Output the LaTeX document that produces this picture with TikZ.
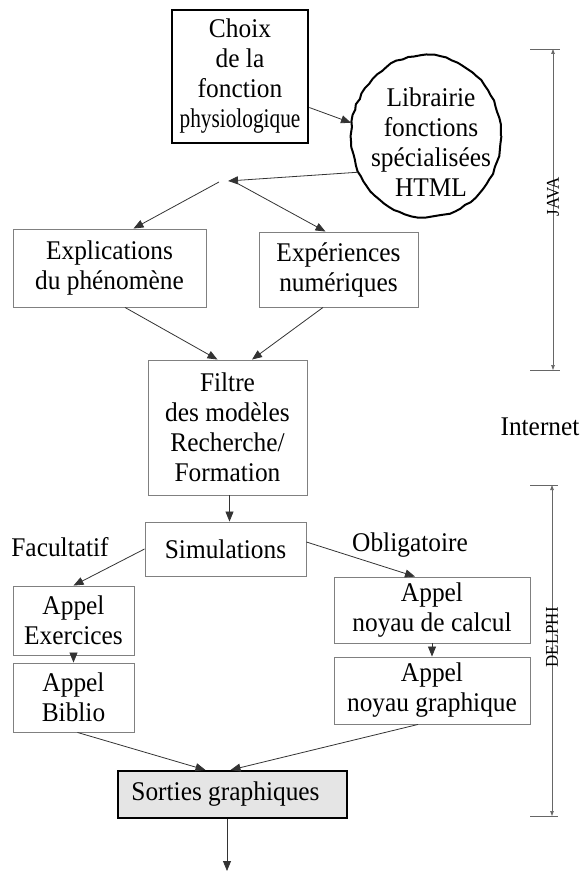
\documentclass[tikz,border=0pt]{standalone}
\usepackage{fontspec}
\usepackage{graphicx}
\setmainfont{Liberation Serif}[FakeStretch=0.94]
\usetikzlibrary{arrows.meta,shapes.geometric,decorations.pathmorphing}
\begin{document}
\begin{tikzpicture}[x=1pt,y=-1pt,
  every node/.style={font=\fontsize{27}{30}\selectfont, align=center, inner sep=0pt},
  box/.style={draw=black!50, line width=0.9pt, rectangle},
  conn/.style={draw=black!80, line width=0.8pt, -{Triangle[length=10pt,width=8pt]}},
  dimline/.style={draw=black!60, line width=0.7pt, {Triangle[length=5pt,width=3.5pt]}-{Triangle[length=5pt,width=3.5pt]}},
  tickline/.style={draw=black!60, line width=0.7pt},
  small/.style={font=\fontsize{18}{20}\selectfont}]
\useasboundingbox (0,0) rectangle (581,872);
\pgfmathsetseed{7}
% nodes
\node[box, draw=black, line width=2.5pt, minimum width=136pt, minimum height=133pt] (choix) at (240,76.5)
  {Choix\\de la\\fonction\\\scalebox{0.84}[1]{physiologique}};
\node[draw=black, line width=2pt, ellipse, minimum width=150pt, minimum height=162pt,
  decorate, decoration={random steps,segment length=6pt,amplitude=0.8pt}] (lib) at (426,136) {};
\node (libtxt) at (431,142) {Librairie\\fonctions\\spécialisées\\HTML};
\coordinate (J) at (228,181);
\node[box, minimum width=193pt, minimum height=78pt] (expl) at (109.5,268) {Explications\\du phénomène};
\node[box, minimum width=159pt, minimum height=75pt] (exper) at (338.5,269.5) {Expériences\\numériques};
\node[box, minimum width=159pt, minimum height=135pt] (filtre) at (227.5,427.5) {Filtre\\des modèles\\Recherche/\\Formation};
\node[box, minimum width=161pt, minimum height=54pt] (simu) at (225.5,549) {Simulations};
\node (fac) at (60,547) {Facultatif};
\node (obl) at (410,545) {Obligatoire};
\node (inet) at (540,427) {Internet};
\node[box, minimum width=121pt, minimum height=69pt] (exo) at (73.5,620.5) {Appel\\Exercices};
\node[box, minimum width=121pt, minimum height=69pt] (biblio) at (73.5,697.5) {Appel\\Biblio};
\node[box, minimum width=196pt, minimum height=66pt] (calc) at (432,610) {Appel\\noyau de calcul};
\node[box, minimum width=196pt, minimum height=67pt] (graph) at (432,690.5) {Appel\\noyau graphique};
\node[box, draw=black, line width=2pt, fill=black!10, minimum width=229pt, minimum height=47pt] (sorties) at (232.5,794.5) {Sorties graphiques\hspace*{14pt}};
\coordinate (out) at (227,871);
% connectors
\draw[conn] ([yshift=-31pt]choix.east) -- (lib.170);
\draw[conn] (lib.208) -- (J);
\draw[conn] ([xshift=-9pt,yshift=-1pt]J) -- ([xshift=24pt]expl.north);
\draw[conn] ([xshift=5pt]J) -- ([xshift=-13pt]exper.north);
\draw[conn] ([xshift=15.5pt]expl.south) -- ([xshift=-10pt]filtre.north);
\draw[conn] ([xshift=-15.5pt]exper.south) -- ([xshift=24.5pt]filtre.north);
\draw[conn] ([xshift=2pt]filtre.south) -- ([xshift=2pt]filtre.south |- simu.north);
\draw[conn] (simu.west) -- (exo.north);
\draw[conn] ([yshift=7pt]simu.east) -- ([xshift=-17pt]calc.north);
\draw[conn] (exo.south) -- (biblio.north);
\draw[conn] (calc.south) -- (graph.north);
\draw[conn] ([xshift=4pt]biblio.south) -- ([xshift=-27pt]sorties.north);
\draw[conn] ([xshift=-14pt]graph.south) -- ([xshift=-2pt]sorties.north);
\draw[conn] ([xshift=-5.5pt]sorties.south) -- (out);
% JAVA / DELPHI extents
\coordinate (javaT) at (553,49);
\coordinate (javaB) at (553,370);
\coordinate (delT) at (552,485);
\coordinate (delB) at (552,816);
\draw[tickline] ([xshift=-23pt]javaT) -- ([xshift=7pt]javaT);
\draw[tickline] ([xshift=-23pt]javaB) -- ([xshift=7pt]javaB);
\draw[tickline] ([xshift=-22pt]delT) -- ([xshift=6pt]delT);
\draw[tickline] ([xshift=-22pt]delB) -- ([xshift=6pt]delB);
\draw[dimline] (javaT) -- (javaB) node[pos=0.46, rotate=90, small] (java) {JAVA};
\draw[dimline] (delT) -- (delB) node[pos=0.46, rotate=90, small] (delphi) {DELPHI};
\end{tikzpicture}
\end{document}
